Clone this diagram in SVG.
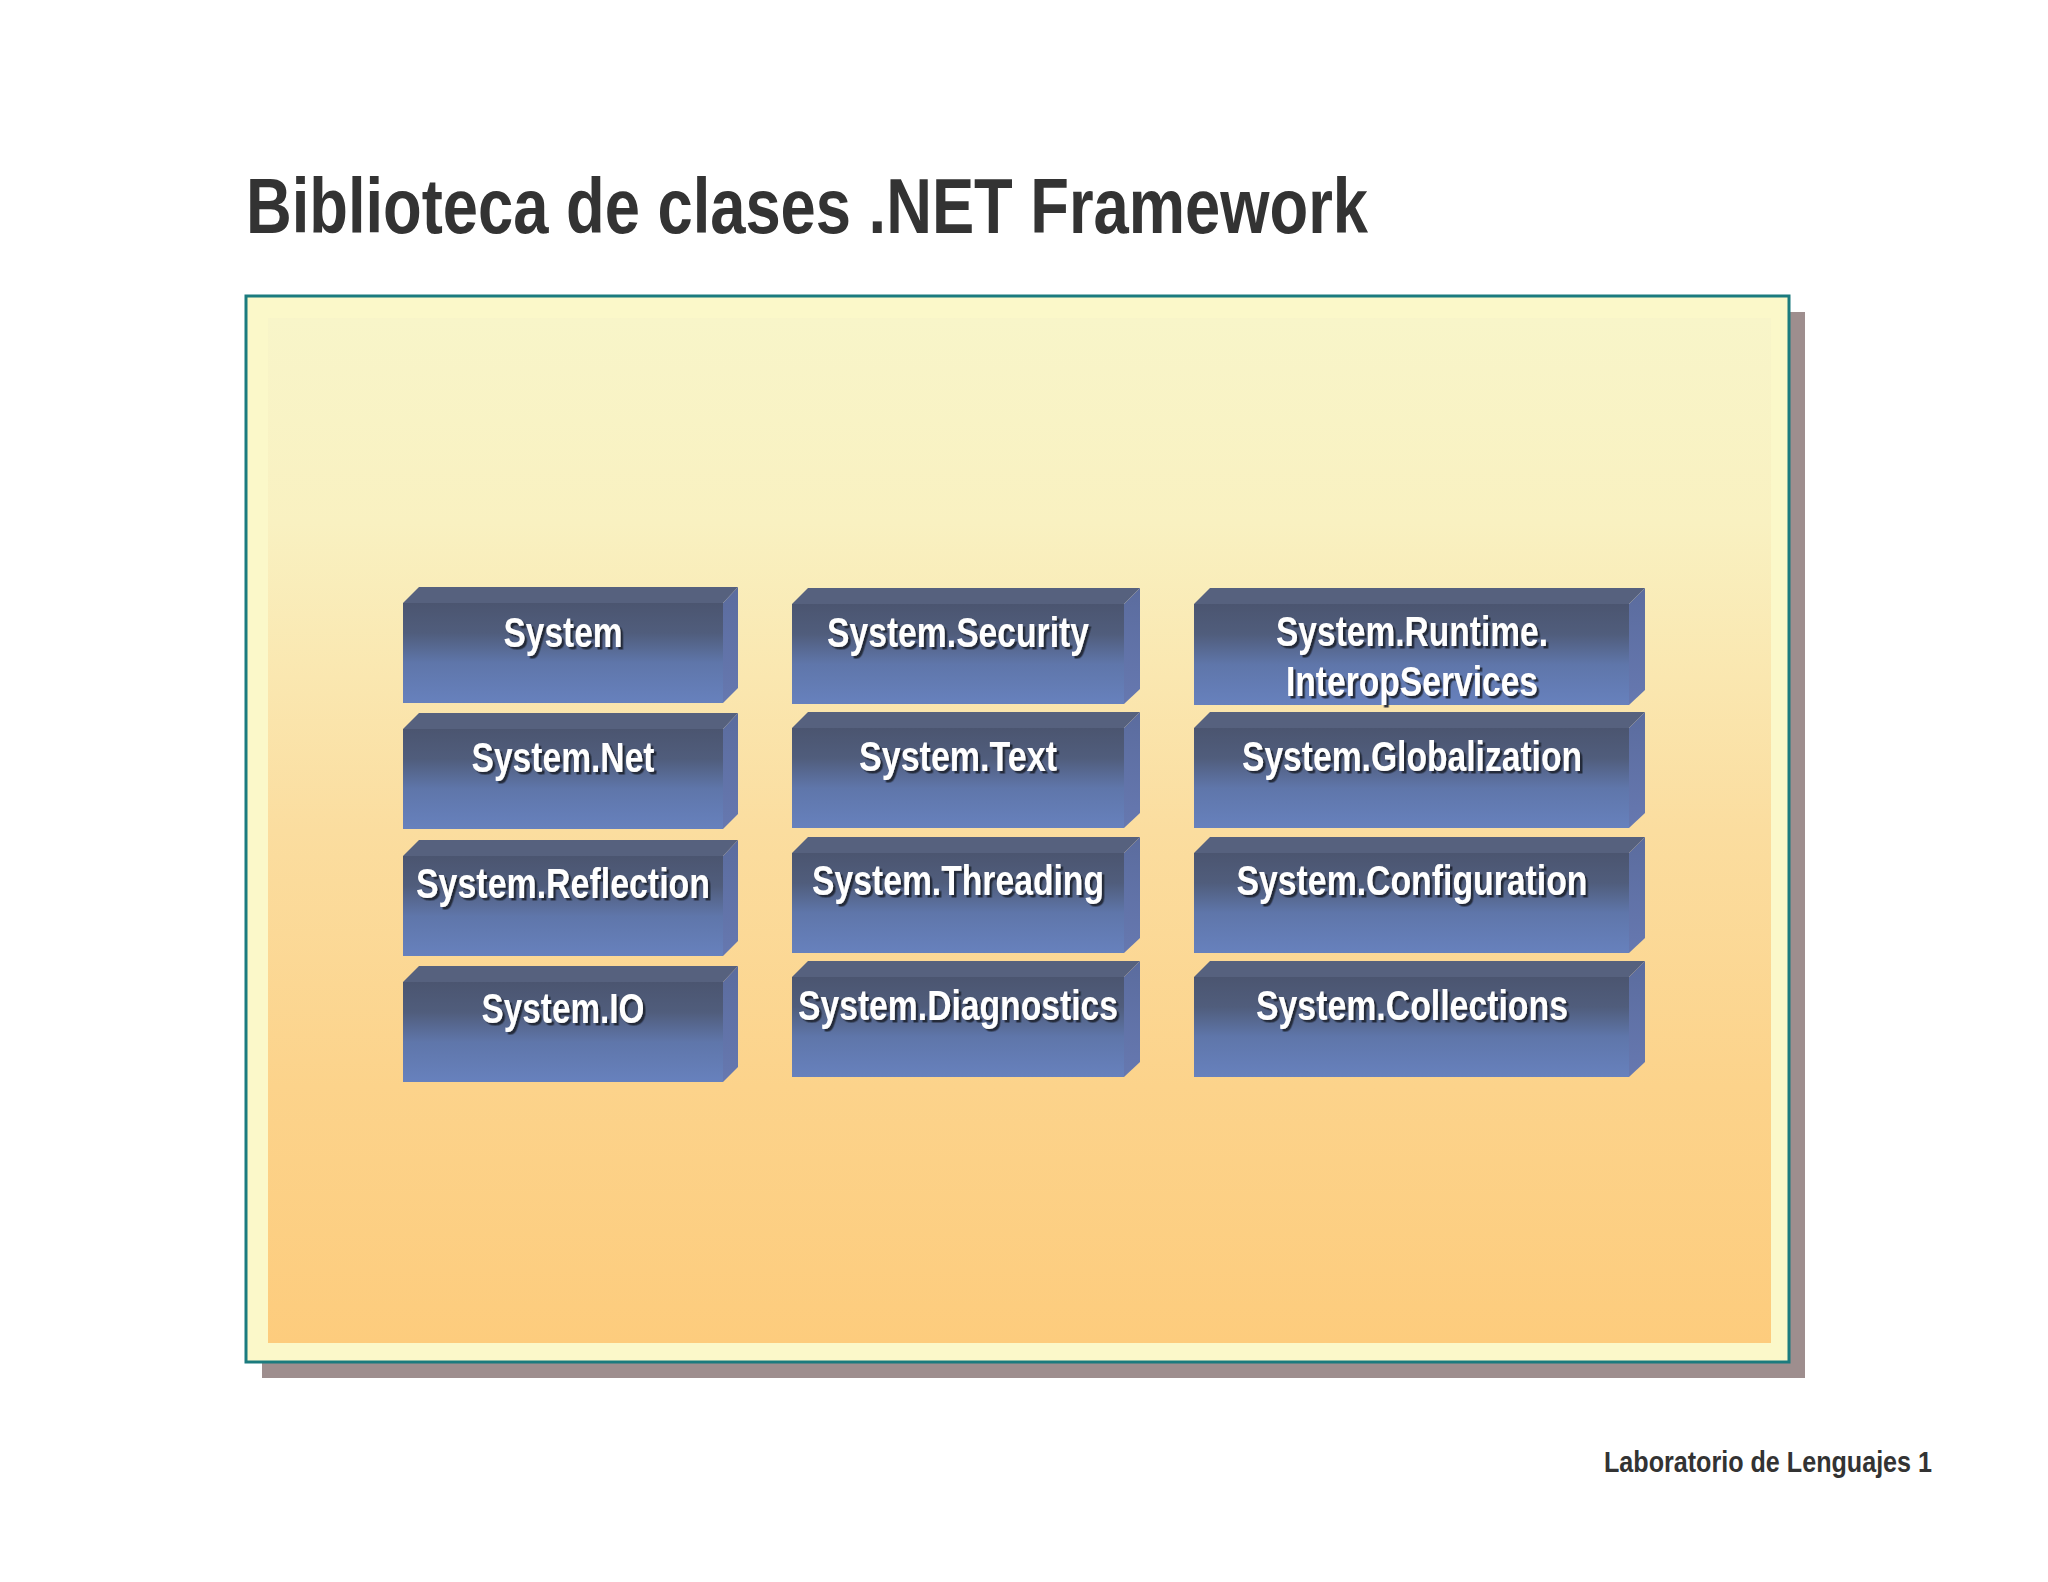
<svg xmlns="http://www.w3.org/2000/svg" width="2048" height="1582" viewBox="0 0 2048 1582">
<defs>
<linearGradient id="bg" x1="0" y1="0" x2="0" y2="1">
<stop offset="0" stop-color="#f8f5c9"/>
<stop offset="0.2" stop-color="#f9f1c1"/>
<stop offset="0.5" stop-color="#fbdd9f"/>
<stop offset="0.75" stop-color="#fcd38b"/>
<stop offset="1" stop-color="#fdcc7d"/>
</linearGradient>
<linearGradient id="front" x1="0" y1="0" x2="0" y2="1">
<stop offset="0" stop-color="#4b5570"/>
<stop offset="0.3" stop-color="#505d7c"/>
<stop offset="0.6" stop-color="#5f76aa"/>
<stop offset="1" stop-color="#6781bd"/>
</linearGradient>
<linearGradient id="side" x1="0" y1="0" x2="0" y2="1">
<stop offset="0" stop-color="#5b6c9e"/>
<stop offset="1" stop-color="#6678b0"/>
</linearGradient>
<filter id="ts" x="-10%" y="-30%" width="120%" height="160%">
<feDropShadow dx="2.5" dy="2.5" stdDeviation="0.6" flood-color="#1e2230" flood-opacity="0.9"/>
</filter>
</defs>
<style>
.top{fill:#56617e}
.front{fill:url(#front)}
.side{fill:url(#side)}
.lbl{font-family:"Liberation Sans",Arial,sans-serif;font-weight:bold;font-size:42px;fill:#ffffff;text-anchor:middle;filter:url(#ts)}
.title{font-family:"Liberation Sans",Arial,sans-serif;font-weight:bold;font-size:77px;fill:#333333}
.foot{font-family:"Liberation Sans",Arial,sans-serif;font-weight:bold;font-size:29px;fill:#333333}
</style>
<rect width="2048" height="1582" fill="#ffffff"/>
<text class="title" x="246" y="233" textLength="1122" lengthAdjust="spacingAndGlyphs">Biblioteca de clases .NET Framework</text>
<g id="frame">
<rect x="262" y="312" width="1543" height="1066" fill="#9e8e8e"/>
<rect x="246" y="296" width="1543" height="1066" fill="#fbf8c9" stroke="#1b7b7e" stroke-width="3"/>
<rect x="268" y="318" width="1503" height="1025" fill="url(#bg)"/>
</g>
<g id="connectors"/>
<g id="n-system">
<polygon class="top" points="403,603 419,587 738,587 723,603"/>
<rect class="front" x="403" y="603" width="320" height="100"/>
<polygon class="side" points="723,603 738,587 738,688 723,703"/>
<text class="lbl" x="563" y="647" textLength="119" lengthAdjust="spacingAndGlyphs">System</text>
</g>
<g id="n-net">
<polygon class="top" points="403,729 419,713 738,713 723,729"/>
<rect class="front" x="403" y="729" width="320" height="100"/>
<polygon class="side" points="723,729 738,713 738,814 723,829"/>
<text class="lbl" x="563" y="772" textLength="183" lengthAdjust="spacingAndGlyphs">System.Net</text>
</g>
<g id="n-reflection">
<polygon class="top" points="403,856 419,840 738,840 723,856"/>
<rect class="front" x="403" y="856" width="320" height="100"/>
<polygon class="side" points="723,856 738,840 738,941 723,956"/>
<text class="lbl" x="563" y="898" textLength="294" lengthAdjust="spacingAndGlyphs">System.Reflection</text>
</g>
<g id="n-io">
<polygon class="top" points="403,982 419,966 738,966 723,982"/>
<rect class="front" x="403" y="982" width="320" height="100"/>
<polygon class="side" points="723,982 738,966 738,1067 723,1082"/>
<text class="lbl" x="563" y="1023" textLength="163" lengthAdjust="spacingAndGlyphs">System.IO</text>
</g>
<g id="n-security">
<polygon class="top" points="792,604 808,588 1140,588 1124,604"/>
<rect class="front" x="792" y="604" width="332" height="100"/>
<polygon class="side" points="1124,604 1140,588 1140,689 1124,704"/>
<text class="lbl" x="958" y="647" textLength="262" lengthAdjust="spacingAndGlyphs">System.Security</text>
</g>
<g id="n-text">
<polygon class="top" points="792,728 808,712 1140,712 1124,728"/>
<rect class="front" x="792" y="728" width="332" height="100"/>
<polygon class="side" points="1124,728 1140,712 1140,813 1124,828"/>
<text class="lbl" x="958" y="771" textLength="198" lengthAdjust="spacingAndGlyphs">System.Text</text>
</g>
<g id="n-threading">
<polygon class="top" points="792,853 808,837 1140,837 1124,853"/>
<rect class="front" x="792" y="853" width="332" height="100"/>
<polygon class="side" points="1124,853 1140,837 1140,938 1124,953"/>
<text class="lbl" x="958" y="895" textLength="292" lengthAdjust="spacingAndGlyphs">System.Threading</text>
</g>
<g id="n-diagnostics">
<polygon class="top" points="792,977 808,961 1140,961 1124,977"/>
<rect class="front" x="792" y="977" width="332" height="100"/>
<polygon class="side" points="1124,977 1140,961 1140,1062 1124,1077"/>
<text class="lbl" x="958" y="1020" textLength="320" lengthAdjust="spacingAndGlyphs">System.Diagnostics</text>
</g>
<g id="n-interop">
<polygon class="top" points="1194,604 1210,588 1645,588 1629,604"/>
<rect class="front" x="1194" y="604" width="435" height="101"/>
<polygon class="side" points="1629,604 1645,588 1645,690 1629,705"/>
<text class="lbl" x="1412" y="646" textLength="272" lengthAdjust="spacingAndGlyphs">System.Runtime.</text>
<text class="lbl" x="1412" y="696" textLength="252" lengthAdjust="spacingAndGlyphs">InteropServices</text>
</g>
<g id="n-globalization">
<polygon class="top" points="1194,728 1210,712 1645,712 1629,728"/>
<rect class="front" x="1194" y="728" width="435" height="100"/>
<polygon class="side" points="1629,728 1645,712 1645,813 1629,828"/>
<text class="lbl" x="1412" y="771" textLength="340" lengthAdjust="spacingAndGlyphs">System.Globalization</text>
</g>
<g id="n-configuration">
<polygon class="top" points="1194,853 1210,837 1645,837 1629,853"/>
<rect class="front" x="1194" y="853" width="435" height="100"/>
<polygon class="side" points="1629,853 1645,837 1645,938 1629,953"/>
<text class="lbl" x="1412" y="895" textLength="351" lengthAdjust="spacingAndGlyphs">System.Configuration</text>
</g>
<g id="n-collections">
<polygon class="top" points="1194,977 1210,961 1645,961 1629,977"/>
<rect class="front" x="1194" y="977" width="435" height="100"/>
<polygon class="side" points="1629,977 1645,961 1645,1062 1629,1077"/>
<text class="lbl" x="1412" y="1020" textLength="312" lengthAdjust="spacingAndGlyphs">System.Collections</text>
</g>
<text class="foot" x="1604" y="1472" textLength="328" lengthAdjust="spacingAndGlyphs">Laboratorio de Lenguajes 1</text>
</svg>
